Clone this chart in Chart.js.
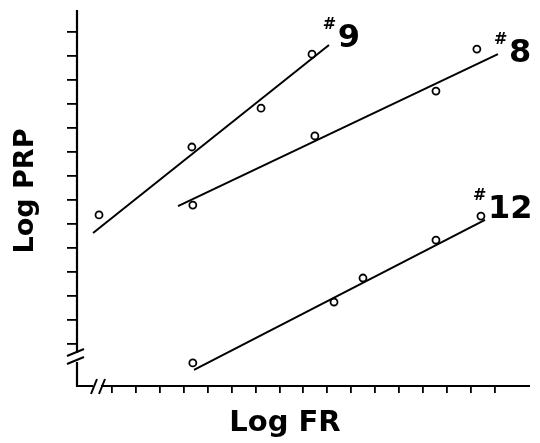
<!DOCTYPE html>
<html>
<head>
<meta charset="utf-8">
<script src="https://cdn.jsdelivr.net/npm/chart.js@4.4.0/dist/chart.umd.min.js"></script>
<style>
  html, body { margin:0; padding:0; background:#fff; }
</style>
</head>
<body>
<canvas id="myChart" width="540" height="443"></canvas>
<script>
// values, in tick units (log FR on x, log PRP on y)
const xTicks = [1,2,3,4,5,6,7,8,9,10,11,12,13,14,15,16,17];
const yTicks = [1,2,3,4,5,6,7,8,9,10,11,12,13,14];

const fr9  = [0.46, 4.34, 7.23, 9.36];
const prp9 = [6.38, 9.21, 10.83, 13.08];
const fit9x = [0.21, 10.07];
const fit9y = [5.63, 13.46];

const fr8  = [4.38, 9.48, 14.54, 16.25];
const prp8 = [6.79, 9.67, 11.54, 13.29];
const fit8x = [3.76, 17.13];
const fit8y = [6.75, 13.08];

const fr12  = [4.38, 10.28, 11.49, 14.54, 16.42];
const prp12 = [0.21, 2.75, 3.75, 5.33, 6.33];
const fit12x = [4.43, 16.59];
const fit12y = [-0.08, 6.17];

const seriesNames = ['9', '8', '12'];

const pts = (xs, ys) => xs.map((x, i) => ({x: x, y: ys[i]}));

function fitLine(xs, ys){
    return {
        data: pts(xs, ys),
        showLine: true,
        borderColor: '#000',
        borderWidth: 2,
        pointRadius: 0,
        fill: false
    };
}
function dots(xs, ys){
    return {
        data: pts(xs, ys),
        showLine: false,
        pointStyle: 'circle',
        pointRadius: 3.5,
        pointBorderWidth: 1.8,
        pointBorderColor: '#000',
        pointBackgroundColor: 'rgba(0,0,0,0)'
    };
}

// where the "#n" tags sit (data units, digit left / baseline)
const tagAt = [[10.44, 13.38], [17.59, 12.75], [16.71, 6.25]];

const extras = {
    id: 'extras',
    afterDraw(chart){
        const ctx = chart.ctx;
        const a = chart.chartArea;
        const xs = chart.scales.x, ys = chart.scales.y;
        ctx.save();
        ctx.strokeStyle = '#000';
        ctx.fillStyle = '#000';
        ctx.lineWidth = 2.2;
        ctx.lineCap = 'butt';

        // y axis with a break near the bottom
        ctx.beginPath();
        ctx.moveTo(a.left, a.top); ctx.lineTo(a.left, a.bottom - 33);
        ctx.moveTo(a.left, a.bottom - 24); ctx.lineTo(a.left, a.bottom + 1);
        // x axis with a break near the left
        ctx.moveTo(a.left - 1, a.bottom); ctx.lineTo(a.left + 16, a.bottom);
        ctx.moveTo(a.left + 24, a.bottom); ctx.lineTo(a.right, a.bottom);
        ctx.stroke();

        ctx.lineWidth = 2;
        ctx.beginPath();
        ctx.moveTo(a.left - 10, a.bottom - 30); ctx.lineTo(a.left + 7, a.bottom - 37);
        ctx.moveTo(a.left - 10, a.bottom - 22); ctx.lineTo(a.left + 7, a.bottom - 29);
        ctx.moveTo(a.left + 14, a.bottom + 8); ctx.lineTo(a.left + 20, a.bottom - 7);
        ctx.moveTo(a.left + 22, a.bottom + 8); ctx.lineTo(a.left + 28, a.bottom - 7);
        ctx.stroke();

        // series tags
        seriesNames.forEach((n, i) => {
            const px = xs.getPixelForValue(tagAt[i][0]);
            const py = ys.getPixelForValue(tagAt[i][1]);
            ctx.textAlign = 'left';
            ctx.textBaseline = 'alphabetic';
            ctx.font = 'bold 32px "DejaVu Sans"';
            ctx.fillText(n, px, py);
            ctx.font = 'bold 16px "DejaVu Sans"';
            ctx.fillText('#', px - 15, py - 18);
        });

        // axis titles
        ctx.textAlign = 'center';
        ctx.textBaseline = 'alphabetic';
        ctx.font = 'bold 29px "DejaVu Sans"';
        ctx.fillText('Log FR', 285, 431);
        ctx.save();
        ctx.translate(33, 191);
        ctx.rotate(-Math.PI / 2);
        ctx.font = 'bold 27px "DejaVu Sans"';
        ctx.fillText('Log PRP', 0, 0);
        ctx.restore();

        ctx.restore();
    }
};

const config = {
    type: 'scatter',
    data: {
        datasets: [
            fitLine(fit9x, fit9y), dots(fr9, prp9),
            fitLine(fit8x, fit8y), dots(fr8, prp8),
            fitLine(fit12x, fit12y), dots(fr12, prp12)
        ]
    },
    options: {
        responsive: false,
        animation: false,
        devicePixelRatio: 1,
        layout: { padding: { left: 67, right: 10, top: 10, bottom: 50 } },
        plugins: { legend: { display: false }, tooltip: { enabled: false } },
        scales: {
            x: {
                type: 'linear',
                min: -0.46, max: 18.47,
                afterBuildTicks: s => { s.ticks = xTicks.map(v => ({value: v})); },
                ticks: { display: false },
                border: { display: false },
                grid: { drawOnChartArea: false, drawTicks: true, tickLength: 7, color: '#000', lineWidth: 1.8 }
            },
            y: {
                type: 'linear',
                min: -0.75, max: 14.92,
                afterBuildTicks: s => { s.ticks = yTicks.map(v => ({value: v})); },
                ticks: { display: false },
                border: { display: false },
                grid: { drawOnChartArea: false, drawTicks: true, tickLength: 10, color: '#000', lineWidth: 1.8 }
            }
        }
    },
    plugins: [extras]
};

window.myChart = new Chart(document.getElementById('myChart'), config);
</script>
</body>
</html>
